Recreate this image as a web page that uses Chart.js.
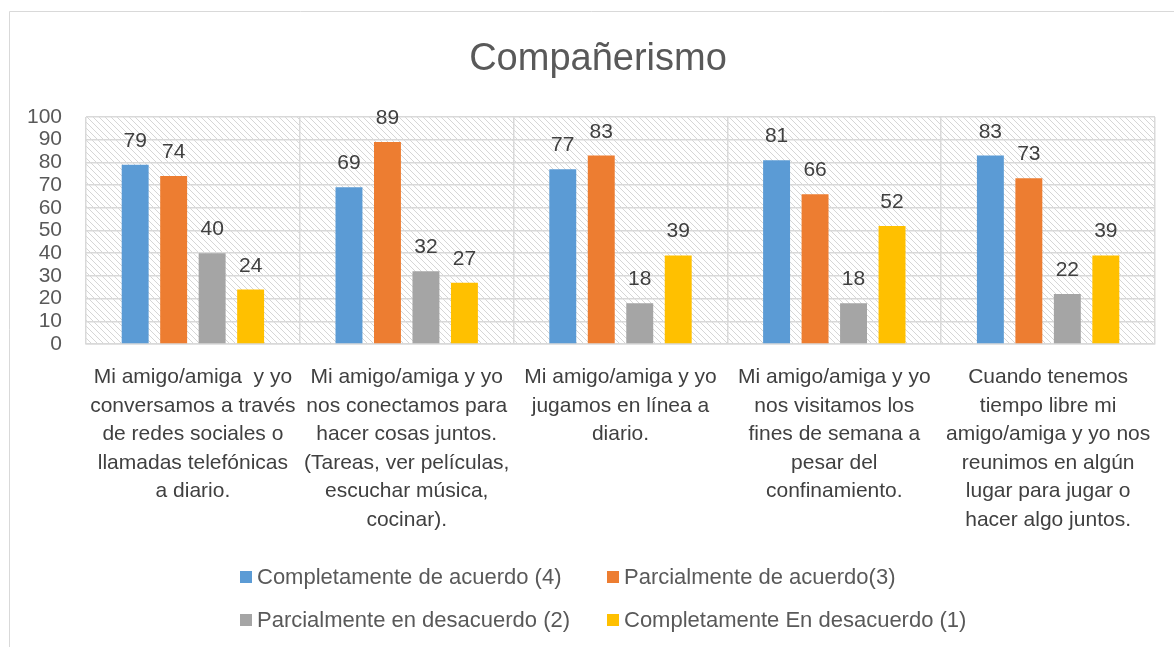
<!DOCTYPE html>
<html>
<head>
<meta charset="utf-8">
<script src="https://cdn.jsdelivr.net/npm/chart.js@4"></script>
<style>
  body { margin: 0; background: #fff; }
  #wrap { width: 1174px; height: 647px; }
</style>
</head>
<body>
<div id="wrap"><canvas id="chart" width="1174" height="647"></canvas></div>
<script>
// Datos
const chartTitle = 'Compañerismo';
const categories = [
    ['Mi amigo/amiga  y yo', 'conversamos a través', 'de redes sociales o', 'llamadas telefónicas', 'a diario.'],
    ['Mi amigo/amiga y yo', 'nos conectamos para', 'hacer cosas juntos.', '(Tareas, ver películas,', 'escuchar música,', 'cocinar).'],
    ['Mi amigo/amiga y yo', 'jugamos en línea a', 'diario.'],
    ['Mi amigo/amiga y yo', 'nos visitamos los', 'fines de semana a', 'pesar del', 'confinamiento.'],
    ['Cuando tenemos', 'tiempo libre mi', 'amigo/amiga y yo nos', 'reunimos en algún', 'lugar para jugar o', 'hacer algo juntos.']
];
const seriesNames = [
    'Completamente de acuerdo (4)',
    'Parcialmente de acuerdo(3)',
    'Parcialmente en desacuerdo (2)',
    'Completamente En desacuerdo (1)'
];
const completamenteAcuerdo = [79, 69, 77, 81, 83];
const parcialmenteAcuerdo = [74, 89, 83, 66, 73];
const parcialmenteDesacuerdo = [40, 32, 18, 18, 22];
const completamenteDesacuerdo = [24, 27, 39, 52, 39];
const yMin = 0, yMax = 100, yStep = 10;

const colors = ['#5B9BD5', '#ED7D31', '#A5A5A5', '#FFC000'];
const FONT = "'Liberation Sans', Arial, sans-serif";

// Fondo rayado
function hatchPattern(ctx) {
    const c = document.createElement('canvas');
    c.width = 6; c.height = 6;
    const p = c.getContext('2d');
    p.fillStyle = '#fff';
    p.fillRect(0, 0, 6, 6);
    p.strokeStyle = '#d6d6d6';
    p.lineWidth = 1;
    p.beginPath();
    p.moveTo(-1, -1); p.lineTo(7, 7);
    p.moveTo(-1, 5); p.lineTo(1, 7);
    p.moveTo(5, -1); p.lineTo(7, 1);
    p.stroke();
    return ctx.createPattern(c, 'repeat');
}

const decor = {
    id: 'decor',
    beforeDraw(chart) {
        const { ctx, chartArea: a } = chart;
        ctx.save();
        // marco exterior
        ctx.strokeStyle = '#d9d9d9';
        ctx.lineWidth = 1;
        ctx.beginPath();
        ctx.moveTo(9.5, 647); ctx.lineTo(9.5, 11.5); ctx.lineTo(1174, 11.5);
        ctx.stroke();
        ctx.fillStyle = hatchPattern(ctx);
        ctx.fillRect(a.left, a.top, a.right - a.left, a.bottom - a.top);
        // título
        ctx.fillStyle = '#595959';
        ctx.font = '38px ' + FONT;
        ctx.textAlign = 'center';
        ctx.textBaseline = 'middle';
        ctx.fillText(chartTitle, 598, 60);
        ctx.restore();
    },
    afterDatasetsDraw(chart) {
        const { ctx } = chart;
        ctx.save();
        ctx.fillStyle = '#404040';
        ctx.font = '21px ' + FONT;
        ctx.textAlign = 'center';
        ctx.textBaseline = 'alphabetic';
        chart.data.datasets.forEach((ds, i) => {
            chart.getDatasetMeta(i).data.forEach((bar, j) => {
                ctx.fillText(String(ds.data[j]), bar.x, bar.y - 18);
            });
        });
        // leyenda
        const cols = [240, 607], rows = [577, 620];
        ctx.font = '22px ' + FONT;
        ctx.textAlign = 'left';
        ctx.textBaseline = 'middle';
        seriesNames.forEach((name, i) => {
            const x = cols[i % 2], y = rows[Math.floor(i / 2)];
            ctx.fillStyle = colors[i];
            ctx.fillRect(x, y - 6, 12, 12);
            ctx.fillStyle = '#595959';
            ctx.fillText(name, x + 17, y + 1);
        });
        ctx.restore();
    }
};

const ctx = document.getElementById('chart').getContext('2d');
const chart = new Chart(ctx, {
    type: 'bar',
    data: {
        labels: categories,
        datasets: [
            { label: seriesNames[0], data: completamenteAcuerdo, backgroundColor: colors[0] },
            { label: seriesNames[1], data: parcialmenteAcuerdo, backgroundColor: colors[1] },
            { label: seriesNames[2], data: parcialmenteDesacuerdo, backgroundColor: colors[2] },
            { label: seriesNames[3], data: completamenteDesacuerdo, backgroundColor: colors[3] }
        ]
    },
    options: {
        responsive: false,
        animation: false,
        layout: { padding: { top: 117, left: 0, right: 19, bottom: 0 } },
        datasets: { bar: { categoryPercentage: 0.72, barPercentage: 0.7 } },
        scales: {
            x: {
                grid: { color: '#d9d9d9', lineWidth: 1.5, drawTicks: false, offset: true },
                border: { color: '#d9d9d9', width: 1.5 },
                ticks: {
                    color: '#404040', font: { family: FONT, size: 21, lineHeight: 1.36 },
                    padding: 19, maxRotation: 0, autoSkip: false
                },
                afterFit(scale) { scale.height = 647 - 344; }
            },
            y: {
                min: yMin, max: yMax,
                grid: { color: '#d9d9d9', lineWidth: 1.5, drawTicks: false },
                border: { display: false },
                ticks: {
                    stepSize: yStep, color: '#595959', autoSkip: false,
                    font: { family: FONT, size: 21 }, padding: 24
                },
                afterFit(scale) { scale.width = 86; }
            }
        },
        plugins: {
            legend: { display: false },
            title: { display: false },
            tooltip: { enabled: false }
        }
    },
    plugins: [decor]
});
</script>
</body>
</html>
